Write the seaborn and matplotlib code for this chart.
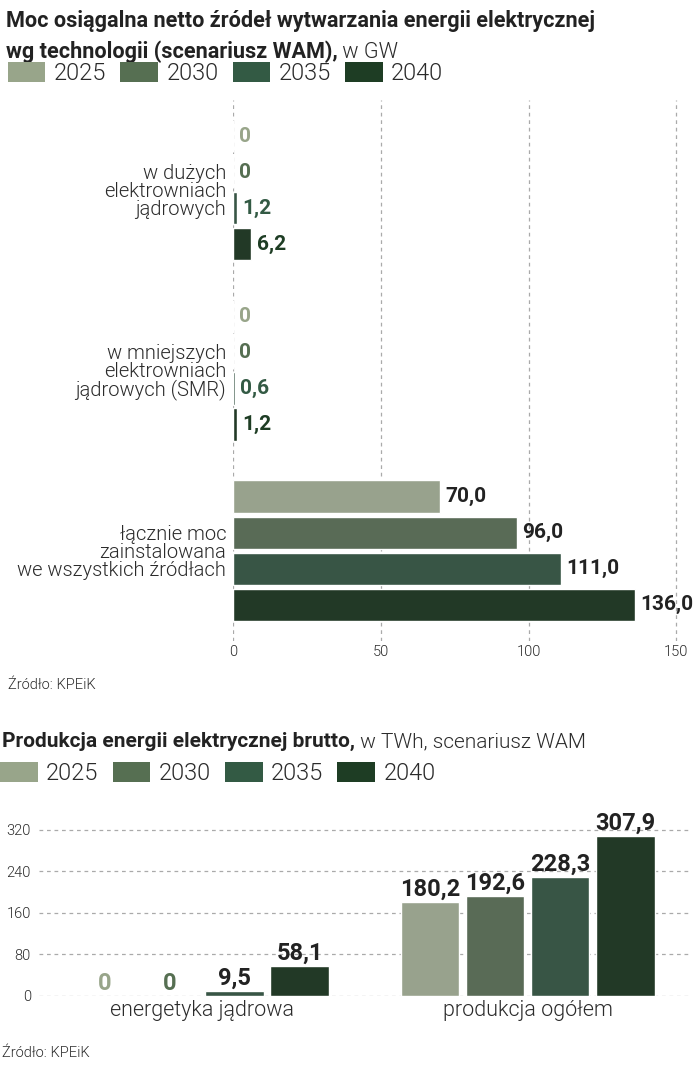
import matplotlib
matplotlib.use("Agg")
import matplotlib.pyplot as plt
import seaborn as sns
import pandas as pd
from matplotlib.patches import Patch

lata = ["2025", "2030", "2035", "2040"]
kolory = ["#98a58a", "#566f52", "#335a44", "#1e3d24"]

moc_kategorie = ["w dużych\nelektrowniach\njądrowych",
                 "w mniejszych\nelektrowniach\njądrowych (SMR)",
                 "łącznie moc\nzainstalowana\nwe wszystkich źródłach"]
moc_duze = [0, 0, 1.2, 6.2]
moc_smr = [0, 0, 0.6, 1.2]
moc_lacznie = [70.0, 96.0, 111.0, 136.0]
moc_ticks = [0, 50, 100, 150]

prod_kategorie = ["energetyka jądrowa", "produkcja ogółem"]
prod_jadrowa = [0, 0, 9.5, 58.1]
prod_ogolem = [180.2, 192.6, 228.3, 307.9]
prod_ticks = [0, 80, 160, 240, 320]

FONT = ["Roboto", "DejaVu Sans"]
CIEMNY = "#222222"
SZARY = "#2b2b2b"
SIATKA = "#aaaaaa"
LEKKI = 300

sns.set_theme(style="white")
plt.rcParams["font.family"] = FONT


def fmt(v):
    if v == 0:
        return "0"
    return f"{v:.1f}".replace(".", ",")


def tytul(fig, x, y, pogrubiony, zwykly, size):
    t1 = fig.text(x, y, pogrubiony, fontsize=size, fontweight="bold", color=CIEMNY, va="baseline")
    fig.canvas.draw()
    bb = t1.get_window_extent()
    x2 = bb.x1 / fig.bbox.width
    fig.text(x2, y, zwykly, fontsize=size, fontweight=LEKKI, color=SZARY, va="baseline")


def legenda(fig, x, y):
    uchwyty = [Patch(facecolor=k, edgecolor="none") for k in kolory]
    leg = fig.legend(uchwyty, lata, loc="upper left", bbox_to_anchor=(x, y), ncol=4,
                     frameon=False, fontsize=17, handlelength=1.6, handleheight=0.95,
                     handletextpad=0.35, columnspacing=0.6, borderaxespad=0, borderpad=0)
    for t in leg.get_texts():
        t.set_fontweight(LEKKI)
        t.set_color(SZARY)


fig = plt.figure(figsize=(6.98, 10.8), dpi=100)

# --- wykres 1: moc osiagalna ---
df_moc = pd.DataFrame({
    "kategoria": [k for k in moc_kategorie for _ in lata],
    "rok": lata * 3,
    "wartosc": moc_duze + moc_smr + moc_lacznie,
})
ax1 = fig.add_axes([0.334, 0.4065, 0.656, 0.5009])
sns.barplot(data=df_moc, x="wartosc", y="kategoria", hue="rok", palette=kolory,
            orient="h", width=0.8, gap=0.1, legend=False, ax=ax1)
ax1.set_xlim(0, 155)
ax1.set_ylim(2.5, -0.5)
ax1.set_xticks(moc_ticks)
ax1.set_xticklabels([str(t) for t in moc_ticks], fontsize=10.5, color=SZARY, fontweight=LEKKI)
ax1.tick_params(axis="x", length=0, pad=3)
ax1.tick_params(axis="y", length=0, pad=5)
ax1.set_yticks(range(len(moc_kategorie)))
ax1.set_yticklabels(moc_kategorie, fontsize=14.5, color=SZARY, linespacing=0.92, fontweight=LEKKI)
ax1.set_xlabel("")
ax1.set_ylabel("")
for s in ax1.spines.values():
    s.set_visible(False)
for t in moc_ticks:
    ax1.axvline(t, color=SIATKA, lw=0.9, ls=(0, (3, 3)), zorder=0)
for i, cont in enumerate(ax1.containers):
    for bar in cont:
        v = bar.get_width()
        kol = kolory[i] if v < 20 else CIEMNY
        ax1.annotate(fmt(v), (v, bar.get_y() + bar.get_height() / 2),
                     xytext=(4, 0), textcoords="offset points", va="center", ha="left",
                     fontsize=15, fontweight="bold", color=kol)

tytul(fig, 0.008, 1 - 27 / 1080, "Moc osiągalna netto źródeł wytwarzania energii elektrycznej", "", 15.6)
tytul(fig, 0.008, 1 - 58 / 1080, "wg technologii (scenariusz WAM),", " w GW", 15.6)
legenda(fig, 0.011, 1 - 62 / 1080)
fig.text(0.011, 1 - 689 / 1080, "Źródło: KPEiK", fontsize=10.5, color=SZARY, va="baseline",
         fontweight=LEKKI)

# --- wykres 2: produkcja energii ---
df_prod = pd.DataFrame({
    "kategoria": [k for k in prod_kategorie for _ in lata],
    "rok": lata * 2,
    "wartosc": prod_jadrowa + prod_ogolem,
})
ax2 = fig.add_axes([0.056, 0.0778, 0.933, 0.1778])
sns.barplot(data=df_prod, x="kategoria", y="wartosc", hue="rok", palette=kolory,
            width=0.8, gap=0.1, legend=False, ax=ax2)
ax2.set_xlim(-0.5, 1.5)
ax2.set_ylim(0, 370)
ax2.set_yticks(prod_ticks)
ax2.set_yticklabels([str(t) for t in prod_ticks], fontsize=10.5, color=SZARY, fontweight=LEKKI)
ax2.tick_params(axis="y", length=0, pad=6)
ax2.tick_params(axis="x", length=0, pad=3)
ax2.set_xticks(range(len(prod_kategorie)))
ax2.set_xticklabels(prod_kategorie, fontsize=15.5, color=SZARY, fontweight=LEKKI)
ax2.set_xlabel("")
ax2.set_ylabel("")
for s in ax2.spines.values():
    s.set_visible(False)
for t in prod_ticks:
    ax2.axhline(t, color=SIATKA, lw=0.9, ls=(0, (3, 3)), zorder=0)
for i, cont in enumerate(ax2.containers):
    for bar in cont:
        v = bar.get_height()
        kol = kolory[i] if v == 0 else CIEMNY
        ax2.annotate(fmt(v), (bar.get_x() + bar.get_width() / 2, v),
                     xytext=(0, 1), textcoords="offset points", va="bottom", ha="center",
                     fontsize=17, fontweight="bold", color=kol)

tytul(fig, 0.003, 1 - 747 / 1080, "Produkcja energii elektrycznej brutto,", " w TWh, scenariusz WAM", 15)
legenda(fig, 0.0, 1 - 762 / 1080)
fig.text(0.003, 1 - 1057 / 1080, "Źródło: KPEiK", fontsize=10.5, color=SZARY, va="baseline",
         fontweight=LEKKI)

fig.savefig("out.png", dpi=100)
